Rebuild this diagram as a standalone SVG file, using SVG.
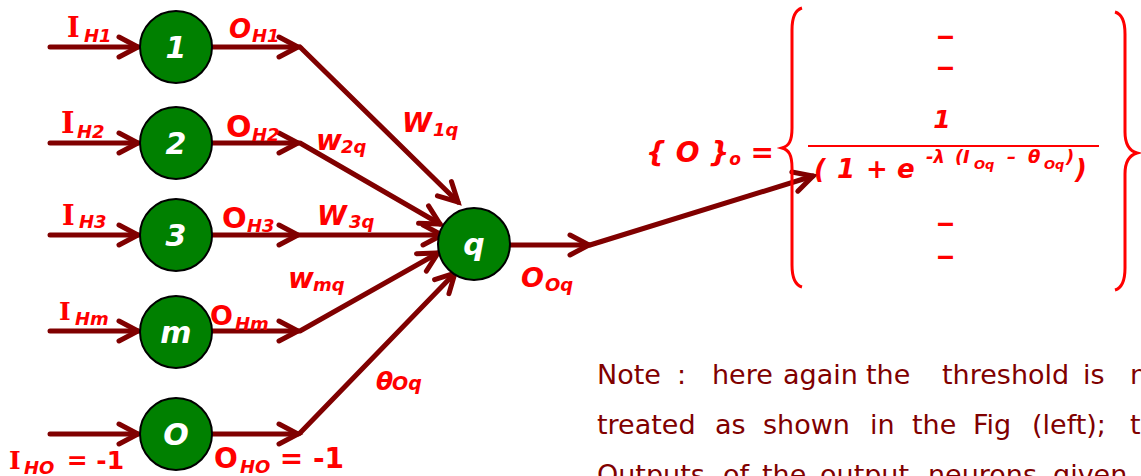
<svg xmlns="http://www.w3.org/2000/svg" width="1141" height="476" viewBox="0 0 1141 476">
<style>
.c{stroke:#800000;stroke-width:5;fill:none;stroke-linecap:round;}
.n{fill:#008000;stroke:#000;stroke-width:2;}
.nl{font-family:"DejaVu Sans",sans-serif;font-weight:bold;font-style:italic;font-size:30px;fill:#fff;text-anchor:middle;}
.l{font-family:"DejaVu Sans",sans-serif;font-weight:bold;fill:#ff0000;font-size:27px;}
.I{font-family:"DejaVu Serif",serif;font-weight:bold;}
.i{font-style:italic;}
.s{font-family:"DejaVu Sans",sans-serif;font-size:18px;font-style:italic;}
.f{font-family:"DejaVu Sans",sans-serif;font-weight:bold;font-style:italic;fill:#ff0000;}
.d{font-family:"DejaVu Sans",sans-serif;font-weight:bold;fill:#ff0000;font-size:26px;}
.br{stroke:#ff0000;stroke-width:3;fill:none;}
.note{font-family:"DejaVu Sans",sans-serif;font-size:27px;fill:#800000;}
</style>
<defs>
<marker id="ah" markerUnits="userSpaceOnUse" markerWidth="40" markerHeight="40" viewBox="-30 -20 40 40" refX="0" refY="0" orient="auto" overflow="visible">
<path d="M-19,-10 L0,0 L-19,10" stroke="#800000" stroke-width="5" fill="none" stroke-linecap="round" stroke-linejoin="miter"/>
</marker>
</defs>
<g id="connectors">
<line class="c" x1="50" y1="47" x2="138" y2="47" marker-end="url(#ah)"/>
<line class="c" x1="50" y1="143" x2="138" y2="143" marker-end="url(#ah)"/>
<line class="c" x1="50" y1="235" x2="138" y2="235" marker-end="url(#ah)"/>
<line class="c" x1="50" y1="331" x2="138" y2="331" marker-end="url(#ah)"/>
<line class="c" x1="50" y1="434" x2="138" y2="434" marker-end="url(#ah)"/>
<line class="c" x1="212" y1="47" x2="298" y2="47" marker-end="url(#ah)"/>
<line class="c" x1="212" y1="143" x2="298" y2="143" marker-end="url(#ah)"/>
<line class="c" x1="212" y1="235" x2="298" y2="235" marker-end="url(#ah)"/>
<line class="c" x1="212" y1="331" x2="298" y2="331" marker-end="url(#ah)"/>
<line class="c" x1="212" y1="434" x2="298" y2="434" marker-end="url(#ah)"/>
<line class="c" x1="300" y1="47" x2="458" y2="202" marker-end="url(#ah)"/>
<line class="c" x1="300" y1="143" x2="440" y2="224" marker-end="url(#ah)"/>
<line class="c" x1="300" y1="235" x2="442" y2="235" marker-end="url(#ah)"/>
<line class="c" x1="300" y1="331" x2="438" y2="253" marker-end="url(#ah)"/>
<line class="c" x1="300" y1="433" x2="455" y2="273" marker-end="url(#ah)"/>
<line class="c" x1="510" y1="245" x2="589" y2="245" marker-end="url(#ah)"/>
<line class="c" x1="590" y1="245" x2="813" y2="176" marker-end="url(#ah)"/>
</g>
<g id="node-1"><circle class="n" cx="176" cy="47" r="36"/><text class="nl" x="176" y="58">1</text></g>
<g id="node-2"><circle class="n" cx="176" cy="143" r="36"/><text class="nl" x="176" y="154">2</text></g>
<g id="node-3"><circle class="n" cx="176" cy="235" r="36"/><text class="nl" x="176" y="246">3</text></g>
<g id="node-m"><circle class="n" cx="176" cy="332" r="36"/><text class="nl" x="176" y="343">m</text></g>
<g id="node-O"><circle class="n" cx="176" cy="434" r="36"/><text class="nl" x="176" y="445">O</text></g>
<g id="node-q"><circle class="n" cx="474" cy="244" r="36"/><text class="nl" x="474" y="255">q</text></g>
<g id="labels">
<text class="l" x="67" y="37"><tspan class="I">I</tspan><tspan class="s" x="84" y="42">H1</tspan></text>
<text class="l i" x="229" y="38" style="font-size:26px">O<tspan class="s" x="252" y="42">H1</tspan></text>
<text class="l" x="61" y="133" style="font-size:29px"><tspan class="I">I</tspan><tspan class="s" x="77" y="138">H2</tspan></text>
<text class="l" x="226" y="137" style="font-size:30px">O<tspan class="s" x="252" y="141">H2</tspan></text>
<text class="l" x="62" y="225"><tspan class="I">I</tspan><tspan class="s" x="79" y="228">H3</tspan></text>
<text class="l" x="222" y="228" style="font-size:29px">O<tspan class="s" x="247" y="232">H3</tspan></text>
<text class="l" x="59" y="320" style="font-size:25px"><tspan class="I">I</tspan><tspan class="s" x="75" y="325">Hm</tspan></text>
<text class="l" x="210" y="325">O<tspan class="s" x="235" y="330">Hm</tspan></text>
<text class="l" x="9" y="469" style="font-size:25px"><tspan class="I">I</tspan><tspan class="s" x="24" y="474">HO</tspan><tspan x="58" y="469"> = -1</tspan></text>
<text class="l" x="214" y="468" style="font-size:28px">O<tspan class="s" x="240" y="473">HO</tspan><tspan x="270" y="468"> = -1</tspan></text>
<text class="l i" x="402" y="132">W<tspan class="s" x="433" y="136">1q</tspan></text>
<text class="l i" x="316" y="150" style="font-size:28px">w<tspan class="s" x="341" y="153">2q</tspan></text>
<text class="l i" x="317" y="225">W<tspan class="s" x="349" y="228">3q</tspan></text>
<text class="l i" x="288" y="288" style="font-size:28px">w<tspan class="s" x="313" y="291">mq</tspan></text>
<text class="l i" x="376" y="390" style="font-size:25px">θ<tspan class="s" x="392" y="390" style="font-size:19px">Oq</tspan></text>
<text class="l i" x="521" y="287">O<tspan class="s" x="545" y="291">Oq</tspan></text>
</g>
<g id="formula">
<text class="f" x="646" y="162" style="font-size:28px">{ O }<tspan style="font-size:17px" y="165">o</tspan><tspan y="162"> =</tspan></text>
<path class="br" d="M802,8 C795,10 792,18 792,30 L792,128 C792,141 789,146 782,148 C789,150 792,155 792,168 L792,265 C792,277 795,285 802,287"/>
<path class="br" d="M1115,12 C1122,14 1125,22 1125,34 L1125,132 C1125,145 1130,151 1137,153 C1130,155 1125,161 1125,174 L1125,268 C1125,281 1122,288 1115,290"/>
<text class="d"><tspan x="936" y="45" textLength="19" lengthAdjust="spacingAndGlyphs">–</tspan><tspan x="936" y="76" textLength="19" lengthAdjust="spacingAndGlyphs">–</tspan></text>
<text class="d"><tspan x="936" y="232" textLength="19" lengthAdjust="spacingAndGlyphs">–</tspan><tspan x="936" y="265" textLength="19" lengthAdjust="spacingAndGlyphs">–</tspan></text>
<text class="f" x="942" y="128" style="font-size:25px;text-anchor:middle">1</text>
<line x1="808" y1="146" x2="1099" y2="146" stroke="#ff0000" stroke-width="2"/>
<text class="f" style="font-size:26px" y="178"><tspan x="814">(</tspan><tspan x="837">1</tspan><tspan x="866">+</tspan><tspan x="897">e</tspan><tspan x="1075">)</tspan></text>
<text class="f" style="font-size:18px" y="163"><tspan x="926">-λ</tspan><tspan x="955">(</tspan><tspan x="963">I</tspan><tspan x="1007">–</tspan><tspan x="1028">θ</tspan><tspan x="1066">)</tspan></text>
<text class="f" style="font-size:13px" y="169"><tspan x="974">Oq</tspan><tspan x="1044">Oq</tspan></text>
</g>
<g id="note">
<text class="note" y="384"><tspan x="597">Note</tspan><tspan x="677">:</tspan><tspan x="712">here</tspan><tspan x="783">again</tspan><tspan x="866">the</tspan><tspan x="942">threshold</tspan><tspan x="1083">is</tspan><tspan x="1130">n</tspan></text>
<text class="note" y="434"><tspan x="597">treated</tspan><tspan x="715">as</tspan><tspan x="763">shown</tspan><tspan x="870">in</tspan><tspan x="912">the</tspan><tspan x="973">Fig</tspan><tspan x="1032">(left);</tspan><tspan x="1130">t</tspan></text>
<text class="note" y="484"><tspan x="597">Outputs</tspan><tspan x="723">of</tspan><tspan x="762">the</tspan><tspan x="820">output</tspan><tspan x="928">neurons</tspan><tspan x="1053">given</tspan></text>
</g>
</svg>
